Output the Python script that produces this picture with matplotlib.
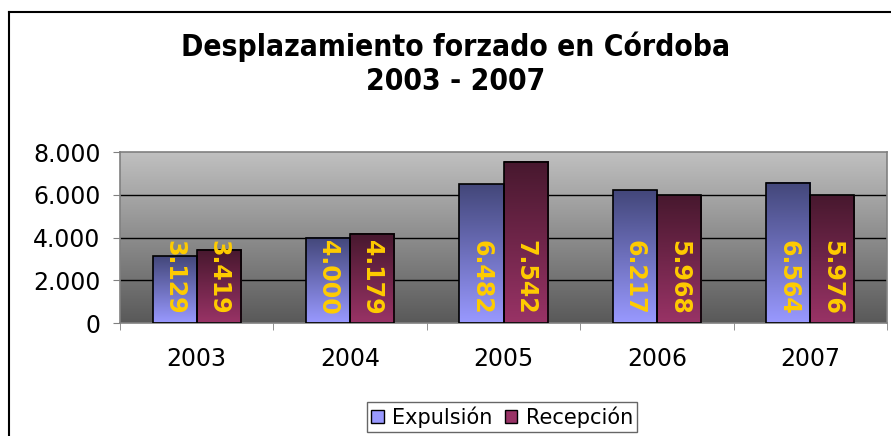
import numpy as np
import matplotlib.pyplot as plt
from matplotlib.colors import LinearSegmentedColormap
from matplotlib.lines import Line2D
from matplotlib.patches import Patch

# Datos
anios = ['2003', '2004', '2005', '2006', '2007']
expulsion = [3129, 4000, 6482, 6217, 6564]
recepcion = [3419, 4179, 7542, 5968, 5976]
yticks = [0, 2000, 4000, 6000, 8000]

def fmt(v):
    return f'{v:,}'.replace(',', '.')

fig = plt.figure(figsize=(8.91, 4.36), dpi=100)
ax = fig.add_axes([120 / 891, 1 - 323 / 436, 767 / 891, 171 / 436])

# fondo degradado del área de trazado
fondo = LinearSegmentedColormap.from_list('fondo', ['#595959', '#c0c0c0'])
ax.imshow(np.linspace(0, 1, 256).reshape(-1, 1), cmap=fondo, origin='lower',
          extent=[0, 1, 0, 1], transform=ax.transAxes, aspect='auto', zorder=0)

x = np.arange(len(anios))
w = 0.287
b1 = ax.bar(x - w / 2, expulsion, w, facecolor='none', edgecolor='black', linewidth=1.2, zorder=3)
b2 = ax.bar(x + w / 2, recepcion, w, facecolor='none', edgecolor='black', linewidth=1.2, zorder=3)

grad_azul = LinearSegmentedColormap.from_list('azul', ['#9999ff', '#43477a'])
grad_rojo = LinearSegmentedColormap.from_list('rojo', ['#993366', '#47182e'])
for barras, cmap, vals in [(b1, grad_azul, expulsion), (b2, grad_rojo, recepcion)]:
    for p, v in zip(barras, vals):
        x0, h = p.get_x(), p.get_height()
        ax.imshow(np.linspace(0, 1, 256).reshape(-1, 1), cmap=cmap, origin='lower',
                  extent=[x0, x0 + p.get_width(), 0, h], aspect='auto', zorder=2)
        ax.annotate(fmt(v), (x0 + p.get_width() / 2, 0), xytext=(0, 8), textcoords='offset pixels',
                    rotation=-90, ha='center', va='bottom', color='#ffcc00',
                    fontsize=17, fontweight='bold', zorder=4)

ax.set_xlim(-0.5, len(anios) - 0.5)
ax.set_ylim(0, 8000)
ax.set_yticks(yticks)
ax.set_yticklabels([fmt(t) for t in yticks], fontsize=17)
ax.set_xticks(x)
ax.set_xticklabels(anios, fontsize=17)
ax.set_xticks(np.arange(len(anios) + 1) - 0.5, minor=True)
ax.tick_params(axis='x', which='major', length=0, pad=17)
ax.tick_params(axis='x', which='minor', length=5, color='#808080')
ax.tick_params(axis='y', length=5, pad=9, color='#808080')
for t in [2000, 4000, 6000]:
    ax.axhline(t, color='black', linewidth=1, zorder=1)
for s in ax.spines.values():
    s.set_color('#808080')
    s.set_linewidth(1.2)

fig.text(456 / 891, 1 - 47 / 436, 'Desplazamiento forzado en Córdoba', ha='center', va='center',
         fontsize=21.5, fontweight='bold', fontstretch='condensed')
fig.text(456 / 891, 1 - 82 / 436, '2003 - 2007', ha='center', va='center',
         fontsize=21.5, fontweight='bold', fontstretch='condensed')

# borde del gráfico
fig.add_artist(Line2D([9 / 891, 9 / 891], [0, 1 - 12 / 436], color='black', linewidth=1.5))
fig.add_artist(Line2D([9 / 891, 1], [1 - 12 / 436, 1 - 12 / 436], color='black', linewidth=1.5))

handles = [Patch(facecolor='#9999ff', edgecolor='black'), Patch(facecolor='#993366', edgecolor='black')]
leg = fig.legend(handles, ['Expulsión', 'Recepción'], loc='upper center',
                 bbox_to_anchor=(502 / 891, 1 - 402 / 436), borderaxespad=0, ncol=2, fontsize=15,
                 frameon=True, fancybox=False, handlelength=0.6, handleheight=0.6,
                 handletextpad=0.4, columnspacing=0.6, borderpad=0.2)
leg.get_frame().set_edgecolor('#404040')

fig.savefig('out.png', dpi=100)
